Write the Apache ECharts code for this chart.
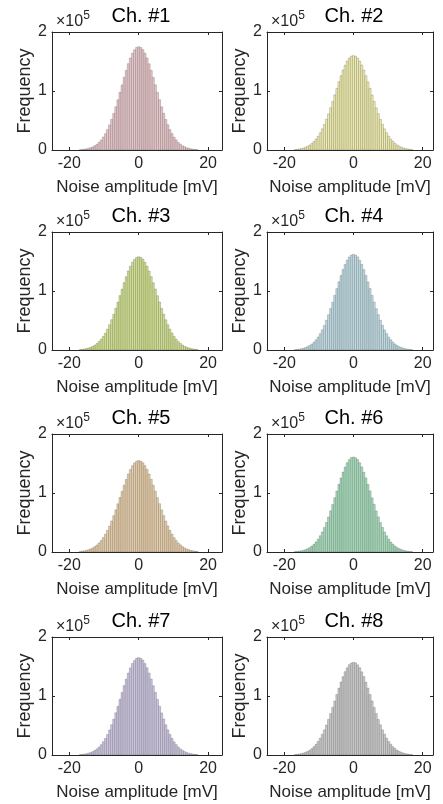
<!DOCTYPE html>
<html>
<head>
<meta charset="utf-8">
<script src="https://cdn.jsdelivr.net/npm/echarts@6/dist/echarts.min.js"></script>
<style>
html, body { margin: 0; padding: 0; background: #fff; }
#main { width: 443px; height: 804px; }
</style>
</head>
<body>
<div id="main"></div>
<script>
// bin centres [mV], bin width 0.6 mV
var binWidth = 0.6;
var binCenters = [-16.8,-16.2,-15.6,-15.0,-14.4,-13.8,-13.2,-12.6,-12.0,-11.4,-10.8,-10.2,-9.6,-9.0,-8.4,-7.8,-7.2,-6.6,-6.0,-5.4,-4.8,-4.2,-3.6,-3.0,-2.4,-1.8,-1.2,-0.6,0,
    0.6,1.2,1.8,2.4,3.0,3.6,4.2,4.8,5.4,6.0,6.6,7.2,7.8,8.4,9.0,9.6,10.2,10.8,11.4,12.0,12.6,13.2,13.8,14.4,15.0,15.6,16.2,16.8];

// counts in units of 1e5
var ch1 = [0.006,0.009,0.014,0.019,0.028,0.040,0.054,0.074,0.098,0.131,0.170,0.219,0.276,0.347,0.426,0.519,0.620,0.733,0.851,0.978,1.103,1.231,1.349,1.463,1.559,1.641,1.699,1.738,1.750,1.736,1.701,1.639,1.561,1.461,1.351,1.229,1.105,0.976,0.853,0.731,0.622,0.517,0.428,0.345,0.278,0.217,0.171,0.129,0.099,0.072,0.055,0.038,0.028,0.019,0.013,0.009,0.006];
var ch2 = [0.009,0.012,0.018,0.025,0.035,0.048,0.064,0.085,0.111,0.145,0.186,0.233,0.291,0.359,0.433,0.521,0.612,0.716,0.821,0.934,1.044,1.156,1.258,1.356,1.437,1.508,1.557,1.590,1.600,1.588,1.559,1.506,1.439,1.354,1.260,1.154,1.046,0.932,0.823,0.714,0.614,0.519,0.435,0.357,0.292,0.234,0.184,0.146,0.112,0.084,0.064,0.047,0.034,0.025,0.018,0.012,0.008];
var ch3 = [0.008,0.012,0.018,0.025,0.034,0.047,0.063,0.083,0.110,0.144,0.183,0.231,0.286,0.354,0.428,0.514,0.605,0.707,0.811,0.922,1.031,1.141,1.242,1.339,1.419,1.489,1.537,1.571,1.580,1.569,1.539,1.487,1.421,1.337,1.244,1.139,1.033,0.920,0.813,0.705,0.607,0.512,0.429,0.352,0.288,0.230,0.184,0.142,0.111,0.084,0.062,0.047,0.035,0.024,0.018,0.012,0.009];
var ch4 = [0.007,0.010,0.015,0.021,0.030,0.042,0.058,0.077,0.101,0.134,0.172,0.220,0.275,0.342,0.416,0.504,0.597,0.702,0.810,0.926,1.039,1.155,1.262,1.364,1.449,1.523,1.575,1.610,1.620,1.608,1.577,1.521,1.451,1.362,1.264,1.153,1.041,0.924,0.812,0.700,0.599,0.502,0.418,0.340,0.277,0.218,0.173,0.132,0.102,0.076,0.057,0.041,0.030,0.021,0.014,0.010,0.007];
var ch5 = [0.010,0.015,0.020,0.028,0.039,0.053,0.070,0.092,0.119,0.154,0.194,0.244,0.300,0.368,0.440,0.526,0.615,0.715,0.816,0.923,1.028,1.133,1.230,1.322,1.398,1.464,1.510,1.541,1.550,1.539,1.512,1.462,1.400,1.320,1.232,1.131,1.030,0.921,0.818,0.713,0.617,0.524,0.442,0.366,0.302,0.242,0.195,0.152,0.121,0.091,0.070,0.051,0.039,0.028,0.020,0.014,0.010];
var ch6 = [0.007,0.010,0.015,0.021,0.030,0.041,0.057,0.076,0.102,0.132,0.171,0.218,0.275,0.339,0.414,0.501,0.593,0.698,0.805,0.920,1.033,1.148,1.254,1.355,1.440,1.514,1.565,1.600,1.610,1.598,1.567,1.512,1.442,1.353,1.256,1.146,1.035,0.918,0.807,0.696,0.595,0.499,0.416,0.338,0.274,0.219,0.170,0.133,0.101,0.075,0.057,0.042,0.030,0.021,0.015,0.010,0.007];
var ch7 = [0.007,0.011,0.015,0.022,0.031,0.043,0.058,0.078,0.104,0.135,0.175,0.224,0.281,0.347,0.425,0.513,0.608,0.715,0.825,0.943,1.059,1.176,1.285,1.389,1.476,1.551,1.604,1.640,1.650,1.638,1.606,1.549,1.478,1.387,1.287,1.174,1.061,0.941,0.827,0.713,0.610,0.511,0.426,0.347,0.282,0.222,0.176,0.136,0.103,0.079,0.058,0.042,0.030,0.022,0.015,0.010,0.007];
var ch8 = [0.008,0.012,0.017,0.024,0.034,0.047,0.063,0.083,0.109,0.142,0.182,0.230,0.285,0.351,0.427,0.509,0.603,0.701,0.808,0.915,1.026,1.132,1.236,1.328,1.412,1.478,1.530,1.559,1.570,1.561,1.528,1.480,1.410,1.330,1.234,1.134,1.024,0.917,0.806,0.703,0.601,0.511,0.425,0.352,0.286,0.228,0.183,0.141,0.110,0.082,0.063,0.046,0.033,0.024,0.017,0.012,0.008];

var channelNames = ['Ch. #1','Ch. #2','Ch. #3','Ch. #4','Ch. #5','Ch. #6','Ch. #7','Ch. #8'];
var channelData = [ch1, ch2, ch3, ch4, ch5, ch6, ch7, ch8];
var xTicks = [-20, 0, 20];

var colors = ['#e6c4c7','#efedaa','#cfe08b','#bddae2','#e6cca6','#a3dbb9','#cbc3df','#c8c8c8'];
var edge = 'rgba(70,70,70,0.5)';
var txt = '#262626';
var font = 'Arial, "Liberation Sans", sans-serif';

var colLeft = [52, 267];
var colWidth = [170, 166];
var colXMax = [24, 23];
var rowTop = [32, 232, 434, 637];
var rowH = 118;

var myChart = echarts.init(document.getElementById('main'));
var grid = [], xAxis = [], yAxis = [], series = [], title = [];

for (var i = 0; i < 8; i++) {
    var c = i % 2, r = Math.floor(i / 2);
    grid.push({ left: colLeft[c], top: rowTop[r], width: colWidth[c], height: rowH, containLabel: false });
    var cx = colLeft[c] + colWidth[c] / 2;
    title.push({
        text: channelNames[i], left: cx - 1, top: rowTop[r] - 31, textAlign: 'center',
        textStyle: { fontFamily: font, fontSize: 20, fontWeight: 'normal', color: '#000' }
    });
    title.push({
        text: '{a|×10}{b|5}', left: colLeft[c] - 1, top: rowTop[r] - 27,
        textStyle: {
            fontWeight: 'normal',
            rich: {
                a: { fontFamily: font, fontSize: 16, fontWeight: 'normal', color: txt, verticalAlign: 'bottom', lineHeight: 20 },
                b: { fontFamily: font, fontSize: 12, fontWeight: 'normal', color: txt, verticalAlign: 'top', lineHeight: 20, padding: [0, 0, 8, 0] }
            }
        }
    });
    // bottom + top x axes
    xAxis.push({
        type: 'value', gridIndex: i, min: -25, max: colXMax[c], position: 'bottom',
        name: 'Noise amplitude [mV]', nameLocation: 'middle', nameGap: 29,
        nameTextStyle: { fontFamily: font, fontSize: 17, color: txt },
        axisLine: { show: true, onZero: false, lineStyle: { color: txt, width: 1 } },
        axisTick: { show: true, inside: true, length: 3, customValues: xTicks, lineStyle: { color: txt } },
        axisLabel: { show: true, customValues: xTicks, margin: 6, fontFamily: font, fontSize: 16, color: txt },
        splitLine: { show: false }
    });
    xAxis.push({
        type: 'value', gridIndex: i, min: -25, max: colXMax[c], position: 'top',
        axisLine: { show: true, onZero: false, lineStyle: { color: txt, width: 1 } },
        axisTick: { show: true, inside: true, length: 3, customValues: xTicks, lineStyle: { color: txt } },
        axisLabel: { show: false },
        splitLine: { show: false }
    });
    yAxis.push({
        type: 'value', gridIndex: i, min: 0, max: 2, interval: 1, position: 'left',
        name: 'Frequency', nameLocation: 'middle', nameGap: 16,
        nameTextStyle: { fontFamily: font, fontSize: 18, color: txt },
        axisLine: { show: true, onZero: false, lineStyle: { color: txt, width: 1 } },
        axisTick: { show: true, inside: true, length: 3, lineStyle: { color: txt } },
        axisLabel: { show: true, margin: 5, fontFamily: font, fontSize: 16, color: txt },
        splitLine: { show: false }
    });
    yAxis.push({
        type: 'value', gridIndex: i, min: 0, max: 2, interval: 1, position: 'right',
        axisLine: { show: true, onZero: false, lineStyle: { color: txt, width: 1 } },
        axisTick: { show: true, inside: true, length: 3, lineStyle: { color: txt } },
        axisLabel: { show: false },
        splitLine: { show: false }
    });
    var d = [];
    for (var k = 0; k < binCenters.length; k++) d.push([binCenters[k], channelData[i][k]]);
    series.push({
        type: 'custom', name: channelNames[i], xAxisIndex: 2 * i, yAxisIndex: 2 * i,
        data: d, clip: true, silent: true,
        renderItem: (function (col) {
            return function (params, api) {
                var x = api.value(0), y = api.value(1);
                var p0 = api.coord([x - binWidth / 2, y]);
                var p1 = api.coord([x + binWidth / 2, 0]);
                return {
                    type: 'rect',
                    shape: { x: p0[0], y: p0[1], width: p1[0] - p0[0], height: p1[1] - p0[1] },
                    style: { fill: col, stroke: edge, lineWidth: 0.5 }
                };
            };
        })(colors[i])
    });
}

myChart.setOption({
    animation: false,
    backgroundColor: '#fff',
    title: title,
    grid: grid,
    xAxis: xAxis,
    yAxis: yAxis,
    series: series
});
</script>
</body>
</html>
